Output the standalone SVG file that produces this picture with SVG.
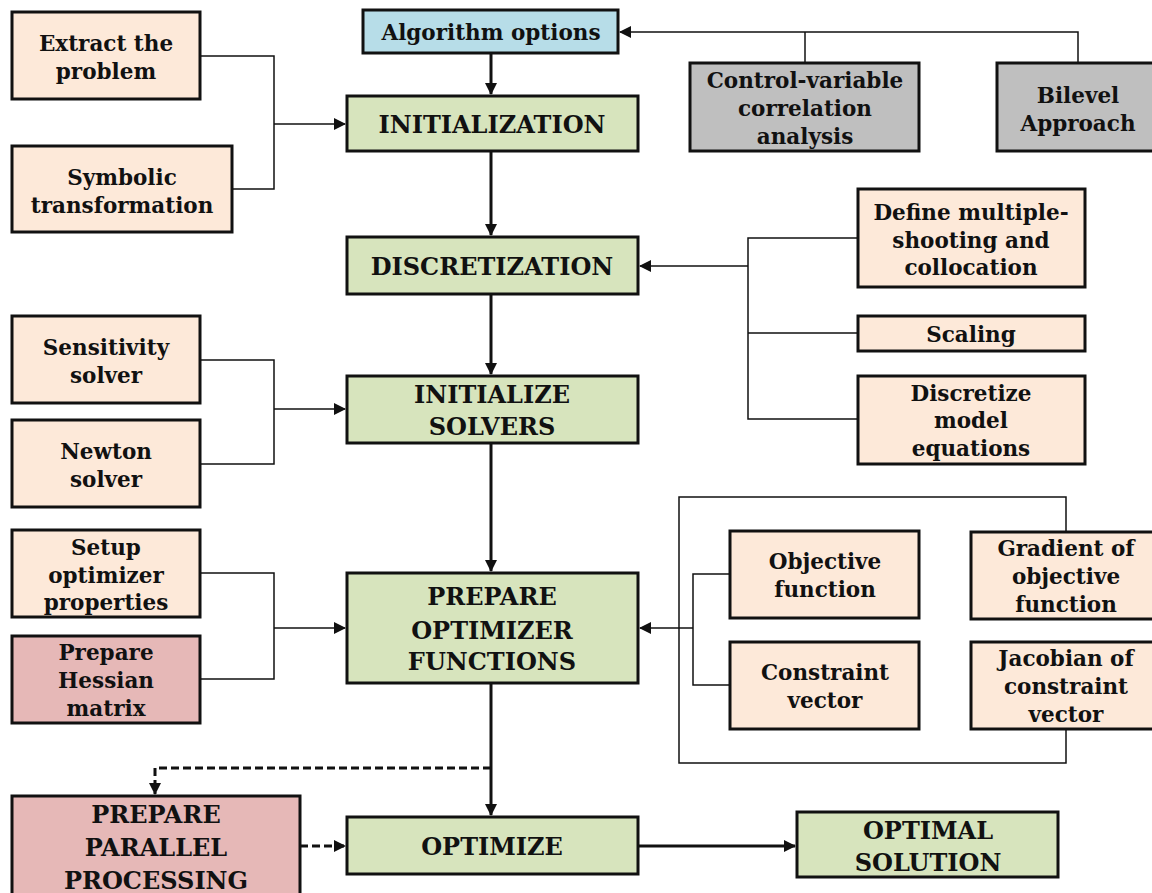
<svg xmlns="http://www.w3.org/2000/svg" width="1152" height="893" viewBox="0 0 1152 893">
  <style>
    .box { stroke: #111; stroke-width: 3; }
    .peach { fill: #fde9d9; }
    .green { fill: #d7e4bd; }
    .blue { fill: #b7dde8; }
    .grey { fill: #bfbfbf; }
    .pink { fill: #e6b8b7; }
    text { font-family: "DejaVu Serif", "Liberation Serif", serif; font-weight: bold; fill: #111; text-anchor: middle; dominant-baseline: central; }
    .s { font-size: 21.5px; }
    .m { font-size: 24px; }
    .thin { fill: none; stroke: #111; stroke-width: 1.5; }
    .thick { fill: none; stroke: #111; stroke-width: 3; }
    .dash { fill: none; stroke: #111; stroke-width: 3; stroke-dasharray: 8 4; }
  </style>
  <defs>
    <marker id="ah" markerUnits="userSpaceOnUse" markerWidth="12" markerHeight="12" refX="11" refY="6" orient="auto">
      <path d="M0,0 L12,6 L0,12 z" fill="#111"/>
    </marker>
  </defs>

  <rect width="1152" height="893" fill="#fff"/>

  <!-- connectors -->
  <g id="connectors">
    <!-- inputs to INITIALIZATION -->
    <path class="thin" d="M200,56 H274 V189 H232"/>
    <path class="thin" d="M274,124 H345" marker-end="url(#ah)"/>
    <!-- analysis blocks to algorithm options -->
    <path class="thin" d="M1078,63 V32 H620" marker-end="url(#ah)"/>
    <path class="thin" d="M805,63 V32"/>
    <path class="thick" d="M491,53 V94" marker-end="url(#ah)"/>
    <!-- main chain -->
    <path class="thick" d="M491,151 V235" marker-end="url(#ah)"/>
    <path class="thick" d="M491,294 V374" marker-end="url(#ah)"/>
    <path class="thick" d="M491,443 V571" marker-end="url(#ah)"/>
    <path class="thick" d="M491,683 V815" marker-end="url(#ah)"/>
    <path class="thick" d="M638,846 H795" marker-end="url(#ah)"/>
    <!-- discretization inputs -->
    <path class="thin" d="M858,238 H748 V419 H858 M748,333 H858"/>
    <path class="thin" d="M748,266 H640" marker-end="url(#ah)"/>
    <!-- solver inputs -->
    <path class="thin" d="M200,360 H274 V464 H200"/>
    <path class="thin" d="M274,409 H345" marker-end="url(#ah)"/>
    <!-- optimizer property inputs -->
    <path class="thin" d="M200,573 H274 V679 H200"/>
    <path class="thin" d="M274,628 H345" marker-end="url(#ah)"/>
    <!-- optimizer function inputs -->
    <path class="thin" d="M730,574 H693 V685 H730"/>
    <path class="thin" d="M693,628 H640" marker-end="url(#ah)"/>
    <path class="thin" d="M1066,532 V497 H679 V763 H1066 V729"/>
    <!-- parallel processing -->
    <path class="dash" d="M491,768 H155 V794" marker-end="url(#ah)"/>
    <path class="dash" d="M300,846 H345" marker-end="url(#ah)"/>
  </g>

  <g id="extract">
    <rect class="box peach" x="12" y="12" width="188" height="87"/>
    <text class="s" x="106" y="43">Extract the</text>
    <text class="s" x="106" y="71">problem</text>
  </g>
  <g id="symbolic">
    <rect class="box peach" x="12" y="146" width="220" height="86"/>
    <text class="s" x="122" y="177">Symbolic</text>
    <text class="s" x="122" y="205">transformation</text>
  </g>
  <g id="algorithm-options">
    <rect class="box blue" x="363" y="10" width="255" height="43"/>
    <text class="s" x="491" y="32">Algorithm options</text>
  </g>
  <g id="initialization">
    <rect class="box green" x="347" y="96" width="291" height="55"/>
    <text class="m" x="492" y="124">INITIALIZATION</text>
  </g>
  <g id="control-variable">
    <rect class="box grey" x="690" y="63" width="229" height="88"/>
    <text class="s" x="805" y="80">Control-variable</text>
    <text class="s" x="805" y="108">correlation</text>
    <text class="s" x="805" y="136">analysis</text>
  </g>
  <g id="bilevel">
    <rect class="box grey" x="997" y="63" width="160" height="88"/>
    <text class="s" x="1078" y="95">Bilevel</text>
    <text class="s" x="1078" y="123">Approach</text>
  </g>
  <g id="discretization">
    <rect class="box green" x="347" y="237" width="291" height="57"/>
    <text class="m" x="492" y="266">DISCRETIZATION</text>
  </g>
  <g id="multiple-shooting">
    <rect class="box peach" x="858" y="189" width="227" height="98"/>
    <text class="s" x="971" y="212">Define multiple-</text>
    <text class="s" x="971" y="240">shooting and</text>
    <text class="s" x="971" y="267">collocation</text>
  </g>
  <g id="scaling">
    <rect class="box peach" x="858" y="316" width="227" height="35"/>
    <text class="s" x="971" y="334">Scaling</text>
  </g>
  <g id="discretize-model">
    <rect class="box peach" x="858" y="376" width="227" height="88"/>
    <text class="s" x="971" y="393">Discretize</text>
    <text class="s" x="971" y="420">model</text>
    <text class="s" x="971" y="448">equations</text>
  </g>
  <g id="initialize-solvers">
    <rect class="box green" x="347" y="376" width="291" height="67"/>
    <text class="m" x="492" y="394">INITIALIZE</text>
    <text class="m" x="492" y="426">SOLVERS</text>
  </g>
  <g id="sensitivity">
    <rect class="box peach" x="12" y="316" width="188" height="87"/>
    <text class="s" x="106" y="347">Sensitivity</text>
    <text class="s" x="106" y="375">solver</text>
  </g>
  <g id="newton">
    <rect class="box peach" x="12" y="420" width="188" height="87"/>
    <text class="s" x="106" y="451">Newton</text>
    <text class="s" x="106" y="479">solver</text>
  </g>
  <g id="prepare-optimizer">
    <rect class="box green" x="347" y="573" width="291" height="110"/>
    <text class="m" x="492" y="596">PREPARE</text>
    <text class="m" x="492" y="630">OPTIMIZER</text>
    <text class="m" x="492" y="661">FUNCTIONS</text>
  </g>
  <g id="setup-optimizer">
    <rect class="box peach" x="12" y="530" width="188" height="87"/>
    <text class="s" x="106" y="547">Setup</text>
    <text class="s" x="106" y="575">optimizer</text>
    <text class="s" x="106" y="602">properties</text>
  </g>
  <g id="hessian">
    <rect class="box pink" x="12" y="636" width="188" height="87"/>
    <text class="s" x="106" y="652">Prepare</text>
    <text class="s" x="106" y="680">Hessian</text>
    <text class="s" x="106" y="708">matrix</text>
  </g>
  <g id="objective">
    <rect class="box peach" x="730" y="531" width="189" height="87"/>
    <text class="s" x="825" y="561">Objective</text>
    <text class="s" x="825" y="589">function</text>
  </g>
  <g id="constraint">
    <rect class="box peach" x="730" y="642" width="189" height="87"/>
    <text class="s" x="825" y="672">Constraint</text>
    <text class="s" x="825" y="700">vector</text>
  </g>
  <g id="gradient">
    <rect class="box peach" x="971" y="532" width="190" height="87"/>
    <text class="s" x="1066" y="548">Gradient of</text>
    <text class="s" x="1066" y="576">objective</text>
    <text class="s" x="1066" y="604">function</text>
  </g>
  <g id="jacobian">
    <rect class="box peach" x="971" y="642" width="190" height="87"/>
    <text class="s" x="1066" y="658">Jacobian of</text>
    <text class="s" x="1066" y="686">constraint</text>
    <text class="s" x="1066" y="714">vector</text>
  </g>
  <g id="parallel">
    <rect class="box pink" x="12" y="796" width="288" height="110"/>
    <text class="m" x="156" y="814">PREPARE</text>
    <text class="m" x="156" y="847">PARALLEL</text>
    <text class="m" x="156" y="880">PROCESSING</text>
  </g>
  <g id="optimize">
    <rect class="box green" x="347" y="817" width="291" height="57"/>
    <text class="m" x="492" y="846">OPTIMIZE</text>
  </g>
  <g id="optimal-solution">
    <rect class="box green" x="797" y="812" width="261" height="65"/>
    <text class="m" x="928" y="830">OPTIMAL</text>
    <text class="m" x="928" y="862">SOLUTION</text>
  </g>
</svg>
